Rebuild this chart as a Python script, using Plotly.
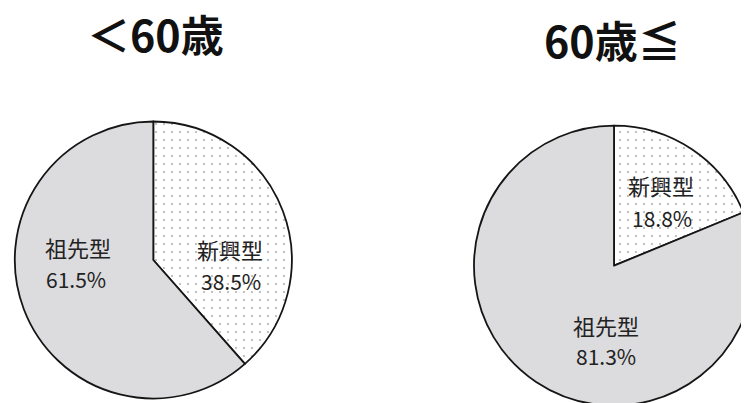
import plotly.graph_objects as go

titles = ["＜60歳", "60歳≦"]
labels = ["新興型", "祖先型"]
under60 = [38.5, 61.5]
over60 = [18.8, 81.3]

FONT = "Noto Sans CJK JP"
fill_colors = ["#ffffff", "#dcdcde"]

# page body has an 8px margin; layout coordinates below are page pixels
W, H = 749, 403
OFF = 8


def px_x(x):
    return (x - OFF) / W


def px_y(y):
    return 1 - (y - OFF) / H


def pie(values, cx, cy, r):
    return go.Pie(
        labels=labels, values=values, sort=False, direction="clockwise", rotation=0,
        domain=dict(x=[px_x(cx - r), px_x(cx + r)], y=[px_y(cy + r), px_y(cy - r)]),
        marker=dict(colors=fill_colors, line=dict(color="#151515", width=1.8),
                    pattern=dict(shape=[".", ""], fgcolor="#b4b4b4", bgcolor="#ffffff",
                                 size=8, solidity=0.06)),
        textinfo="none", hoverinfo="skip", showlegend=False,
    )


fig = go.Figure()
fig.add_trace(pie(under60, 153.3, 260, 138.5))
fig.add_trace(pie(over60, 614, 265.7, 140))

# titles
for t, (x, y) in zip(titles, [(155, 33), (612, 39)]):
    fig.add_annotation(text=f"<b>{t}</b>", x=px_x(x), y=px_y(y), xref="paper", yref="paper",
                       xanchor="center", yanchor="middle", showarrow=False,
                       font=dict(family=FONT, size=43, color="#111111"))

# slice labels (label line and percentage line)
label_pos = [
    (under60, [((230, 249), (231, 281)), ((77.5, 247), (76, 278.5))]),
    (over60, [((661, 185), (661.5, 217.5)), ((605.5, 325), (605.5, 356))]),
]
for values, positions in label_pos:
    for lab, val, (p1, p2) in zip(labels, values, positions):
        fig.add_annotation(text=lab, x=px_x(p1[0]), y=px_y(p1[1]), xref="paper", yref="paper",
                           xanchor="center", yanchor="middle", showarrow=False,
                           font=dict(family=FONT, size=22, color="#222222"))
        fig.add_annotation(text=f"{val:.1f}%", x=px_x(p2[0]), y=px_y(p2[1]), xref="paper",
                           yref="paper", xanchor="center", yanchor="middle", showarrow=False,
                           font=dict(family=FONT, size=21, color="#222222"))

fig.update_layout(width=W, height=H, margin=dict(l=0, r=0, t=0, b=0),
                  paper_bgcolor="white", plot_bgcolor="white")
fig.write_html("out.html")
